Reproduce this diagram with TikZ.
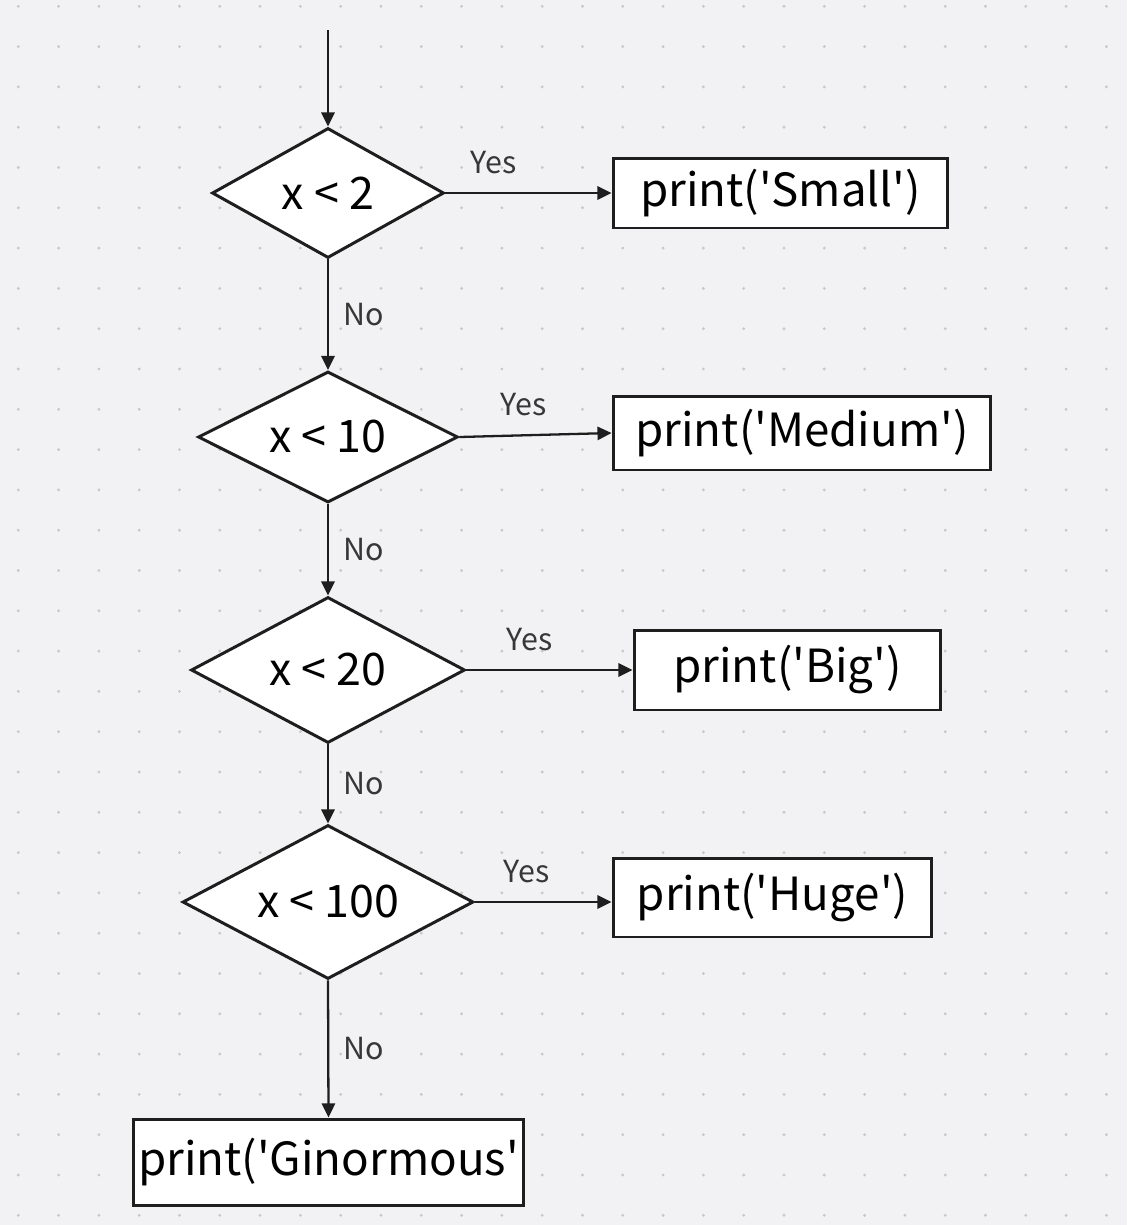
\documentclass[tikz,border=0pt]{standalone}
\usepackage{fontspec}
\setmainfont{Noto Sans CJK SC}[Ligatures=TeXOff]
\usepackage{tikz}
\usetikzlibrary{arrows.meta,shapes.geometric,positioning}
\definecolor{fcbg}{RGB}{242,242,244}
\definecolor{fcdot}{RGB}{200,200,203}
\definecolor{fcline}{RGB}{30,30,30}
\definecolor{fclabel}{RGB}{55,55,55}
\tikzstyle{flow} = [line width=1.3pt,-{Triangle[length=8pt,width=7.5pt]},color=fcline]
\tikzstyle{decision} = [diamond, draw=fcline, fill=white, line width=1.7pt, inner sep=0pt, aspect=2, font=\fontsize{25.5}{30}\selectfont]
\tikzstyle{action} = [rectangle, draw=fcline, fill=white, line width=1.7pt, inner sep=0pt, font=\fontsize{26}{31}\selectfont]
\tikzstyle{branch} = [font=\fontsize{17.3}{21}\selectfont, text=fclabel, inner sep=2pt]

\begin{document}
\begin{tikzpicture}[x=0.02cm, y=-0.02cm]
% Background and dot grid
\fill[fcbg] (0,0) rectangle (1127,1225);
\useasboundingbox (0,0) rectangle (1127,1225);
\foreach \i in {0,...,27}
  \foreach \j in {0,...,30}
    \fill[fcdot] (18.3+40.3*\i, 6.3+40.3*\j) circle (0.9pt);

% Decisions
\coordinate (start) at (328,30);
\node[decision, minimum width=4.64cm, minimum height=2.6cm] (lt2) at (328,193) {x < 2};
\node[decision, minimum width=5.2cm, minimum height=2.62cm] (lt10) at (328,437) {x < 10};
\node[decision, minimum width=5.48cm, minimum height=2.92cm] (lt20) at (328,670) {x < 20};
\node[decision, minimum width=5.82cm, minimum height=3.08cm] (lt100) at (328,902) {x < 100};

% Prints
\node[action, minimum width=6.7cm, minimum height=1.4cm] (small) at (780.5,193) {print('Small')};
\node[action, minimum width=7.56cm, minimum height=1.48cm] (medium) at (802,433) {print('Medium')};
\node[action, minimum width=6.14cm, minimum height=1.6cm] (big) at (787.5,670) {print('Big')};
\node[action, minimum width=6.38cm, minimum height=1.58cm] (huge) at (772.5,897.5) {print('Huge')};
\node[action, minimum width=7.82cm, minimum height=1.72cm] (ginormous) at (328.5,1162) {print('Ginormous'};

% Yes branches
\draw[flow] (start) -- (lt2.north);
\draw[flow] (lt2.east) -- (small.west) node[branch, pos=0.29, above=8.5pt] {Yes};
\draw[flow] (lt10.east) -- (medium.west) node[branch, pos=0.42, above=8.5pt] {Yes};
\draw[flow] (lt20.east) -- (big.west) node[branch, pos=0.38, above=8.5pt] {Yes};
\draw[flow] (lt100.east) -- (lt100.east -| huge.west) node[branch, pos=0.38, above=8.5pt] {Yes};

% No branches
\draw[flow] (lt2.south) -- (lt10.north) node[branch, midway, right=6pt] {No};
\draw[flow] (lt10.south) -- (lt20.north) node[branch, midway, right=6pt] {No};
\draw[flow] (lt20.south) -- (lt100.north) node[branch, midway, right=6pt] {No};
\draw[flow] (lt100.south) -- (ginormous.north) node[branch, midway, right=6pt] {No};
\end{tikzpicture}
\end{document}
